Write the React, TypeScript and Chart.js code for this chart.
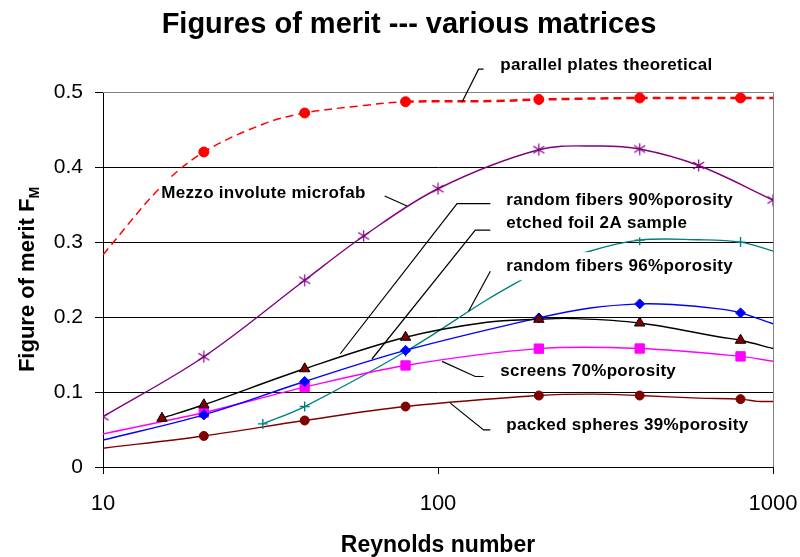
import React, { useEffect, useRef } from "react";
import { Chart, registerables } from "chart.js";

Chart.register(...registerables);

// ---------- data ----------
const xTicks = [10, 100, 1000];
const yTicks = [0, 0.1, 0.2, 0.3, 0.4, 0.5];

// parallel plates theoretical
const ppX = [10, 15, 20, 30, 40, 60, 80, 150, 200, 400, 800, 1000];
const ppY = [0.283, 0.375, 0.42, 0.457, 0.472, 0.482, 0.487, 0.488, 0.49, 0.492, 0.492, 0.492];
const ppMarks = [20, 40, 80, 200, 400, 800];

// Mezzo involute microfab
const mzX = [10, 20, 40, 60, 100, 200, 300, 400, 600, 1000];
const mzY = [0.067, 0.147, 0.249, 0.308, 0.371, 0.423, 0.428, 0.424, 0.402, 0.356];
const mzMarks = [10, 20, 40, 60, 100, 200, 400, 600, 1000];

// random fibers 90% porosity
const rf90X = [15, 20, 40, 80, 140, 200, 250, 400, 700, 800, 1000];
const rf90Y = [0.065, 0.083, 0.131, 0.173, 0.193, 0.197, 0.198, 0.192, 0.173, 0.169, 0.158];
const rf90Marks = [15, 20, 40, 80, 200, 400, 800];

// etched foil 2A sample
const efX = [10, 20, 40, 80, 200, 285, 400, 500, 690, 800, 1000];
const efY = [0.036, 0.0695, 0.114, 0.1555, 0.1988, 0.212, 0.2175, 0.2166, 0.2108, 0.2055, 0.191];
const efMarks = [20, 40, 80, 200, 400, 800];

// screens 70% porosity
const scX = [10, 20, 40, 80, 200, 400, 800, 1000];
const scY = [0.044, 0.0726, 0.1065, 0.1354, 0.1578, 0.158, 0.1475, 0.141];
const scMarks = [20, 40, 80, 200, 400, 800];

// random fibers 96% porosity
const rf96X = [30, 40, 80, 140, 180, 200, 280, 400, 600, 800, 1000];
const rf96Y = [0.0575, 0.0806, 0.154, 0.223, 0.251, 0.262, 0.287, 0.3025, 0.303, 0.2999, 0.288];
const rf96Marks = [30, 40, 80, 400, 800];

// packed spheres 39% porosity
const psX = [10, 20, 40, 80, 200, 290, 400, 600, 800, 900, 1000];
const psY = [0.025, 0.0414, 0.062, 0.0806, 0.0953, 0.0972, 0.0953, 0.0918, 0.0905, 0.0875, 0.0873];
const psMarks = [20, 40, 80, 200, 400, 800];

// annotation labels (anchored in data coordinates: Reynolds, F_M)
const labelTexts = [
  "parallel plates theoretical",
  "Mezzo involute microfab",
  "random fibers 90%porosity",
  "etched foil 2A sample",
  "random fibers 96%porosity",
  "screens 70%porosity",
  "packed spheres 39%porosity",
];
const labelRe = [153.5, 14.93, 159.9, 159.9, 159.9, 153.5, 159.9];
const labelVal = [0.536, 0.3646, 0.356, 0.3249, 0.2678, 0.1274, 0.0561];
const leaderRe = [
  [136.8, 132.2, 117.9],
  [69.3, 80.8],
  [143.3, 114, 51.1],
  [143.3, 129.2, 63.5],
  [143.3, 123.4],
  [136.8, 129.2, 102.8],
  [143.3, 136.8, 108.8],
];
const leaderVal = [
  [0.5305, 0.5305, 0.4862],
  [0.3614, 0.348],
  [0.3512, 0.3512, 0.151],
  [0.3159, 0.3159, 0.144],
  [0.2611, 0.2076],
  [0.1207, 0.1207, 0.1408],
  [0.0495, 0.0495, 0.0852],
];

const FONT = '"Liberation Sans", Arial, sans-serif';

function pts(xs: number[], ys: number[]) {
  return xs.map((x, i) => ({ x, y: ys[i] }));
}
function radii(xs: number[], marks: number[], r: number) {
  return xs.map((x) => (marks.includes(x) ? r : 0));
}

function makeAsterisk(color: string) {
  const c = document.createElement("canvas");
  c.width = 13;
  c.height = 13;
  const g = c.getContext("2d")!;
  g.strokeStyle = color;
  g.lineWidth = 1.2;
  g.beginPath();
  g.moveTo(6.5, 0.5);
  g.lineTo(6.5, 12.5);
  g.moveTo(1, 3);
  g.lineTo(12, 10);
  g.moveTo(1, 10);
  g.lineTo(12, 3);
  g.stroke();
  return c;
}

const decorPlugin = {
  id: "decor",
  beforeDatasetsDraw(chart: any) {
    const { ctx, chartArea } = chart;
    ctx.save();
    ctx.strokeStyle = "#808080";
    ctx.lineWidth = 1;
    ctx.beginPath();
    ctx.moveTo(chartArea.left, chartArea.top + 0.5);
    ctx.lineTo(chartArea.right + 0.5, chartArea.top + 0.5);
    ctx.lineTo(chartArea.right + 0.5, chartArea.bottom);
    ctx.stroke();
    ctx.restore();
  },
  afterDatasetsDraw(chart: any) {
    const { ctx } = chart;
    const xs = chart.scales.x;
    const ys = chart.scales.y;
    ctx.save();
    ctx.font = `bold 17px ${FONT}`;
    (ctx as any).letterSpacing = "0.3px";
    ctx.textBaseline = "middle";
    ctx.textAlign = "left";
    const pos = labelTexts.map((t, i) => ({
      x: xs.getPixelForValue(labelRe[i]),
      y: ys.getPixelForValue(labelVal[i]),
      w: ctx.measureText(t).width,
    }));
    // white boxes
    ctx.fillStyle = "#ffffff";
    pos.forEach((p) => ctx.fillRect(p.x - 2, p.y - 14, p.w + 4, 28));
    // leader lines
    ctx.strokeStyle = "#000000";
    ctx.lineWidth = 1.2;
    leaderRe.forEach((lr, i) => {
      ctx.beginPath();
      lr.forEach((re, j) => {
        const px = xs.getPixelForValue(re);
        const py = ys.getPixelForValue(leaderVal[i][j]);
        if (j === 0) ctx.moveTo(px, py);
        else ctx.lineTo(px, py);
      });
      ctx.stroke();
    });
    // texts
    ctx.fillStyle = "#000000";
    labelTexts.forEach((t, i) => ctx.fillText(t, pos[i].x, pos[i].y));
    ctx.restore();
  },
  afterDraw(chart: any) {
    const { ctx, chartArea } = chart;
    ctx.save();
    ctx.fillStyle = "#000";
    // title
    ctx.font = `bold 29px ${FONT}`;
    ctx.textAlign = "center";
    ctx.textBaseline = "alphabetic";
    ctx.fillText("Figures of merit --- various matrices", chart.width / 2 + 9, 33);
    // x title
    ctx.font = `bold 23px ${FONT}`;
    ctx.fillText("Reynolds number", (chartArea.left + chartArea.right) / 2, 552);
    // y title with subscript
    const cy = (chartArea.top + chartArea.bottom) / 2;
    ctx.translate(34, cy);
    ctx.rotate(-Math.PI / 2);
    const main = "Figure of merit F";
    ctx.font = `bold 22px ${FONT}`;
    const w1 = ctx.measureText(main).width;
    ctx.font = `bold 14px ${FONT}`;
    const w2 = ctx.measureText("M").width;
    const start = -(w1 + w2) / 2;
    ctx.textAlign = "left";
    ctx.font = `bold 22px ${FONT}`;
    ctx.fillText(main, start, 0);
    ctx.font = `bold 14px ${FONT}`;
    ctx.fillText("M", start + w1, 5);
    ctx.restore();
  },
};

export default function App() {
  const ref = useRef<HTMLCanvasElement | null>(null);

  useEffect(() => {
    if (!ref.current) return;
    const aster = makeAsterisk("#800080");
    const common = {
      fill: false,
      tension: 0.35,
      borderWidth: 1.4,
      pointBorderWidth: 1,
    };
    const chart = new Chart(ref.current, {
      type: "line",
      data: {
        datasets: [
          {
            ...common,
            label: "parallel plates theoretical",
            data: pts(ppX, ppY),
            borderColor: "#ff0000",
            borderDash: [8, 5],
            borderWidth: 2,
            segment: {
              borderWidth: (c: any) => (c.p0.parsed.x >= 80 ? 2.5 : 1.5),
            },
            pointStyle: "circle",
            pointRadius: radii(ppX, ppMarks, 5),
            pointBackgroundColor: "#ff0000",
            pointBorderColor: "#ff0000",
          },
          {
            ...common,
            label: "Mezzo involute microfab",
            data: pts(mzX, mzY),
            borderColor: "#800080",
            pointStyle: aster as any,
            pointRadius: radii(mzX, mzMarks, 6),
          },
          {
            ...common,
            label: "random fibers 90% porosity",
            data: pts(rf90X, rf90Y),
            borderColor: "#000000",
            pointStyle: "triangle",
            pointRadius: radii(rf90X, rf90Marks, 6),
            pointBackgroundColor: "#800000",
            pointBorderColor: "#000000",
          },
          {
            ...common,
            label: "etched foil 2A sample",
            data: pts(efX, efY),
            borderColor: "#0000ff",
            pointStyle: "rectRot",
            pointRadius: radii(efX, efMarks, 5),
            pointBackgroundColor: "#0000ff",
            pointBorderColor: "#0000ff",
          },
          {
            ...common,
            label: "screens 70% porosity",
            data: pts(scX, scY),
            borderColor: "#ff00ff",
            pointStyle: "rect",
            pointRadius: radii(scX, scMarks, 6.6),
            pointBackgroundColor: "#ff00ff",
            pointBorderColor: "#ff00ff",
          },
          {
            ...common,
            label: "random fibers 96% porosity",
            data: pts(rf96X, rf96Y),
            borderColor: "#008080",
            pointStyle: "cross",
            pointRadius: radii(rf96X, rf96Marks, 5),
            pointBorderColor: "#008080",
            pointBorderWidth: 1.4,
          },
          {
            ...common,
            label: "packed spheres 39% porosity",
            data: pts(psX, psY),
            borderColor: "#800000",
            pointStyle: "circle",
            pointRadius: radii(psX, psMarks, 4.5),
            pointBackgroundColor: "#800000",
            pointBorderColor: "#800000",
          },
        ],
      },
      options: {
        animation: false,
        responsive: false,
        events: [],
        layout: { padding: { left: 0, top: 92, right: 27, bottom: 0 } },
        plugins: {
          legend: { display: false },
          tooltip: { enabled: false },
          title: { display: false },
        },
        scales: {
          x: {
            type: "logarithmic",
            min: 10,
            max: 1000,
            afterBuildTicks: (axis: any) => {
              axis.ticks = xTicks.map((v) => ({ value: v }));
            },
            afterFit: (scale: any) => {
              scale.height = 90;
              scale.paddingLeft = 0;
              scale.paddingRight = 0;
            },
            ticks: {
              autoSkip: false,
              maxRotation: 0,
              padding: 17,
              color: "#000",
              font: { family: FONT, size: 22 },
              callback: (v: any) => String(v),
            },
            grid: {
              drawOnChartArea: false,
              drawTicks: true,
              tickLength: 7,
              color: "#000",
            },
            border: { display: true, color: "#000", width: 1 },
          },
          y: {
            type: "linear",
            min: 0,
            max: 0.5,
            afterBuildTicks: (axis: any) => {
              axis.ticks = yTicks.map((v) => ({ value: v }));
            },
            afterFit: (scale: any) => {
              scale.width = 103;
              scale.paddingTop = 0;
              scale.paddingBottom = 0;
            },
            ticks: {
              padding: 12,
              color: "#000",
              font: { family: FONT, size: 21 },
              callback: (v: any) => String(Number(Number(v).toFixed(1))),
            },
            grid: {
              color: (c: any) => (c.tick && Math.abs(c.tick.value - 0.5) < 1e-9 ? "#808080" : "#000"),
              tickColor: "#000",
              tickLength: 8,
              lineWidth: 1,
            },
            border: { display: true, color: "#000", width: 1 },
          },
        },
      },
      plugins: [decorPlugin],
    } as any);
    return () => chart.destroy();
  }, []);

  return (
    <div style={{ position: "fixed", left: 0, top: 0, width: 800, height: 557, background: "#fff" }}>
      <canvas ref={ref} width={800} height={557} style={{ display: "block", width: 800, height: 557 }} />
    </div>
  );
}
